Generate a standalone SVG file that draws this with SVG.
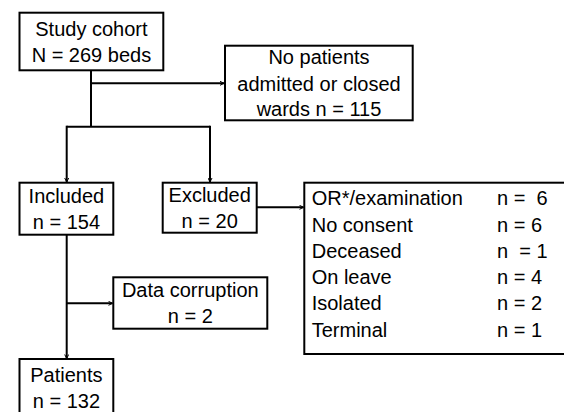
<svg xmlns="http://www.w3.org/2000/svg" width="564" height="412" viewBox="0 0 564 412">
<style>
.box{fill:#fff;stroke:#000;stroke-width:2}
.t{font-family:"Liberation Sans",Arial,sans-serif;font-size:20px;fill:#000}
.c{text-anchor:middle}
.ln{fill:none;stroke:#000;stroke-width:2}
</style>
<defs>
<marker id="arr" viewBox="0 0 10 10" refX="9" refY="5" markerWidth="5" markerHeight="5" orient="auto" markerUnits="userSpaceOnUse">
<polyline points="1,1 9,5 1,9" fill="none" stroke="#000" stroke-width="2"/>
</marker>
</defs>
<g id="connectors">
<path class="ln" d="M91,70.5 V126.7"/>
<path class="ln" d="M91,83.3 H224" marker-end="url(#arr)"/>
<path class="ln" d="M66.7,126.7 H210"/>
<path class="ln" d="M66.7,125.7 V182" marker-end="url(#arr)"/>
<path class="ln" d="M210,125.7 V182" marker-end="url(#arr)"/>
<path class="ln" d="M256.7,207.3 H303.5" marker-end="url(#arr)"/>
<path class="ln" d="M66.7,234.7 V358.5" marker-end="url(#arr)"/>
<path class="ln" d="M66.7,303.3 H112.5" marker-end="url(#arr)"/>
</g>
<g id="study">
<rect class="box" x="19.5" y="12.7" width="143.8" height="57.6"/>
<text class="t c" x="91.4" y="36">Study cohort</text>
<text class="t c" x="91.4" y="62.3">N = 269 beds</text>
</g>
<g id="nopatients">
<rect class="box" x="225" y="45.7" width="187.7" height="74.6"/>
<text class="t c" x="319" y="64.3">No patients</text>
<text class="t c" x="319" y="90.7">admitted or closed</text>
<text class="t c" x="319" y="116">wards n = 115</text>
</g>
<g id="included">
<rect class="box" x="19.5" y="182.7" width="93.8" height="52"/>
<text class="t c" x="66.4" y="203.3">Included</text>
<text class="t c" x="66.4" y="229">n = 154</text>
</g>
<g id="excluded">
<rect class="box" x="162.7" y="182.7" width="94" height="50"/>
<text class="t c" x="209.7" y="201.7">Excluded</text>
<text class="t c" x="209.7" y="228.3">n = 20</text>
</g>
<g id="reasons">
<rect class="box" x="304.3" y="182.7" width="270" height="171.3"/>
<text class="t" x="311.7" y="205">OR*/examination</text>
<text class="t" x="311.7" y="231.5">No consent</text>
<text class="t" x="311.7" y="257.8">Deceased</text>
<text class="t" x="311.7" y="284">On leave</text>
<text class="t" x="311.7" y="310.3">Isolated</text>
<text class="t" x="311.7" y="336.6">Terminal</text>
<text class="t" x="497" y="205" xml:space="preserve">n =  6</text>
<text class="t" x="497" y="231.5">n = 6</text>
<text class="t" x="497" y="257.8" xml:space="preserve">n  = 1</text>
<text class="t" x="497" y="284">n = 4</text>
<text class="t" x="497" y="310.3">n = 2</text>
<text class="t" x="497" y="336.6">n = 1</text>
</g>
<g id="datacorruption">
<rect class="box" x="113.3" y="277.3" width="154" height="51.4"/>
<text class="t c" x="190.3" y="296.7">Data corruption</text>
<text class="t c" x="190.3" y="323.3">n = 2</text>
</g>
<g id="patients">
<rect class="box" x="19.5" y="359" width="93.8" height="60"/>
<text class="t c" x="66.4" y="381.7">Patients</text>
<text class="t c" x="66.4" y="408.3">n = 132</text>
</g>
</svg>
